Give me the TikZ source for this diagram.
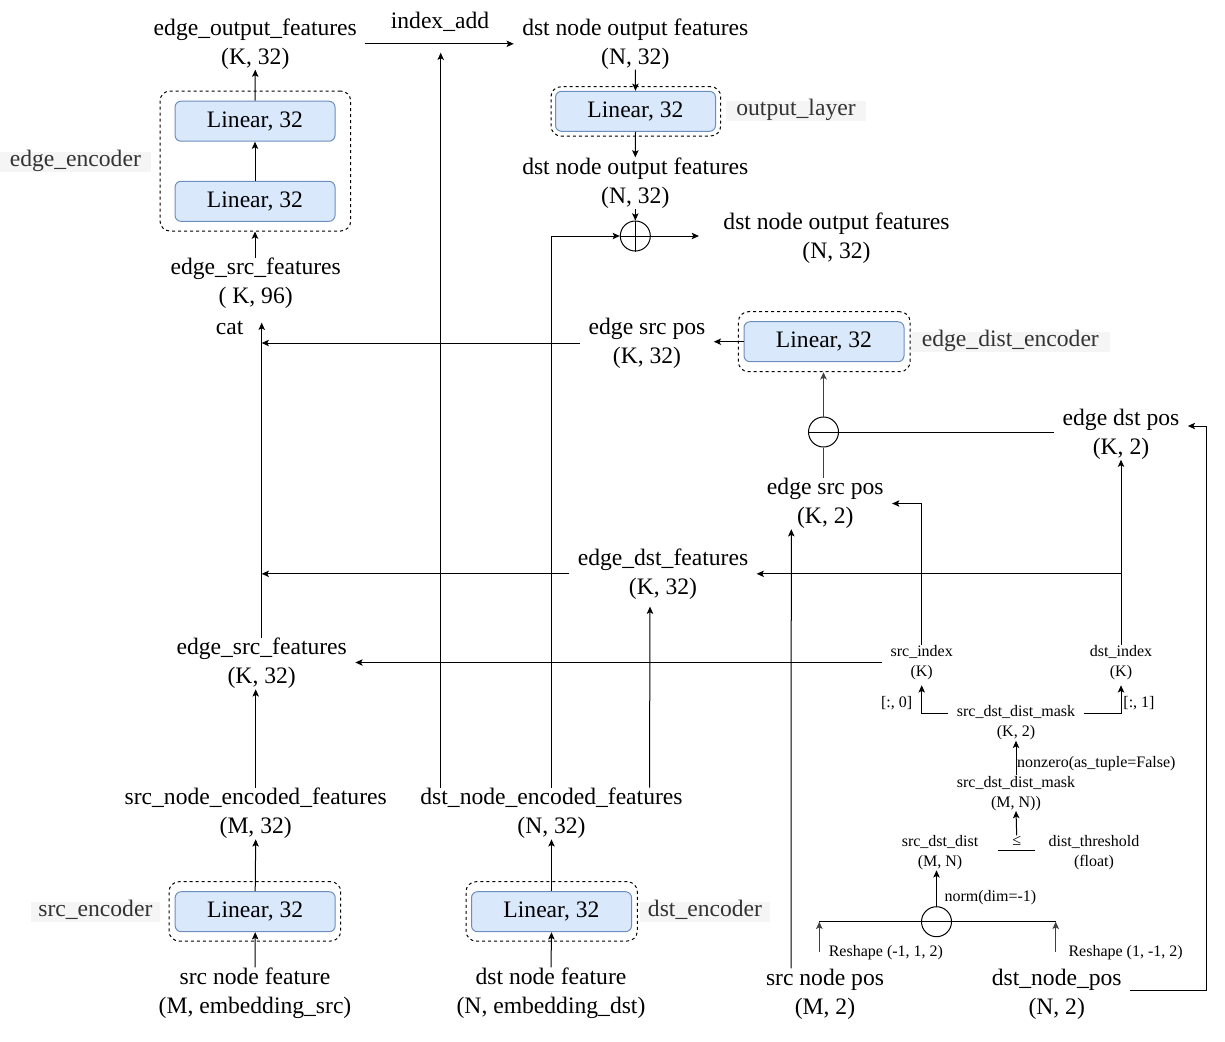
\documentclass[tikz,border=0pt]{standalone}
\usepackage{fontspec}
\setmainfont{Liberation Serif}
\usetikzlibrary{arrows.meta,calc}
\definecolor{linfill}{HTML}{DAE8FC}
\definecolor{linstroke}{HTML}{6C8EBF}
\definecolor{tagbg}{HTML}{F5F5F5}
\definecolor{tagfg}{HTML}{333333}
\newcommand\fbig{\fontsize{11.8pt}{14.5pt}\selectfont}
\newcommand\fsmall{\fontsize{8pt}{10pt}\selectfont}
\tikzset{
  txt/.style={font=\fbig, align=center, inner xsep=4pt, inner ysep=0pt},
  stxt/.style={font=\fsmall, align=center, inner xsep=4pt, inner ysep=0pt},
  lbl/.style={font=\fsmall, inner sep=0pt},
  lin/.style={draw=linstroke, fill=linfill, rounded corners=3pt, line width=0.5pt,
    minimum width=80pt, minimum height=20pt, inner sep=0pt, font=\fbig},
  grp/.style={draw=black, dashed, dash pattern=on 1.5pt off 1.5pt, rounded corners=5pt,
    line width=0.5pt, inner sep=0pt},
  tag/.style={fill=tagbg, text=tagfg, font=\fbig, inner xsep=0pt, inner ysep=0pt,
    text height=7.4pt, text depth=2.6pt},
  op/.style={circle, draw, line width=0.5pt, minimum size=15pt, inner sep=0pt},
  arr/.style={-{Stealth[length=3.6pt,width=3.2pt,inset=0.8pt]}, line width=0.5pt},
  gline/.style={draw=black!75, line width=0.7pt},
}
\begin{document}
\begin{tikzpicture}[x=0.5pt,y=-0.5pt,line width=0.5pt]
\useasboundingbox (0,0) rectangle (1225,1041);

% ---------- edge encoder ----------
\node[grp, minimum width=95.35pt, minimum height=70pt] (grpE) at (255.35,161) {};
\node[lin] (linE2) at (255,121.2) {Linear, 32};
\node[lin] (linE1) at (255,201.3) {Linear, 32};
\node[tag, minimum width=75.35pt] (tagE) at (75.35,161.7) {edge\_encoder};
\node[txt] (eof) at (255.3,43.8) {edge\_output\_features\\(K, 32)};
\node[txt] (esf96) at (255.7,283.5) {edge\_src\_features\\( K, 96)};
\node[txt] (cat) at (229.7,328) {cat};
\coordinate (catin) at (261.7,322.7);

% ---------- output layer ----------
\node[txt] (ia) at (440,22) {index\_add};
\coordinate (iain) at (440.7,52.7);
\node[txt] (dnof1) at (635.3,43.8) {dst node output features\\(N, 32)};
\node[grp, minimum width=84.85pt, minimum height=24.65pt] (grpO) at (635.85,111.35) {};
\node[lin] (linO) at (635.5,111.3) {Linear, 32};
\node[tag, minimum width=70pt] (tagO) at (796,111) {output\_layer};
\node[txt] (dnof2) at (635.3,183.2) {dst node output features\\(N, 32)};
\node[op] (plus) at (635.3,236) {};
\draw (plus.north) -- (plus.south) (plus.west) -- (plus.east);
\node[txt] (dnof3) at (836.5,238) {dst node output features\\(N, 32)};

% ---------- edge distance encoder ----------
\node[txt] (esp32) at (647,343) {edge src pos\\(K, 32)};
\node[grp, minimum width=85.8pt, minimum height=30pt] (grpD) at (824.2,341.7) {};
\node[lin] (linD) at (824,341.7) {Linear, 32};
\node[tag, minimum width=99.65pt] (tagD) at (1010.35,341.7) {edge\_dist\_encoder};
\node[op] (minus) at (823.5,432) {};
\draw (minus.west) -- (minus.east);
\node[txt] (edp) at (1121,434) {edge dst pos\\(K, 2)};
\node[txt] (esp2) at (825.3,503.5) {edge src pos\\(K, 2)};
\node[txt] (edf) at (663,573.8) {edge\_dst\_features\\(K, 32)};
\node[txt] (esf32) at (261.7,663.5) {edge\_src\_features\\(K, 32)};

% ---------- node encoders ----------
\node[txt] (sne) at (255.7,813.5) {src\_node\_encoded\_features\\(M, 32)};
\node[txt] (dnef) at (551.5,813.5) {dst\_node\_encoded\_features\\(N, 32)};
\node[grp, minimum width=85.85pt, minimum height=29.65pt] (grpS) at (254.85,911.35) {};
\node[lin] (linS) at (255.2,911.7) {Linear, 32};
\node[tag, minimum width=64.65pt] (tagS) at (95.35,911.7) {src\_encoder};
\node[grp, minimum width=85.65pt, minimum height=29.65pt] (grpT) at (551.65,911.35) {};
\node[lin] (linT) at (551.5,911.7) {Linear, 32};
\node[tag, minimum width=65pt] (tagT) at (705,911.7) {dst\_encoder};
\node[txt] (snf) at (255,993.3) {src node feature\\(M, embedding\_src)};
\node[txt] (dnf) at (551,993.3) {dst node feature\\(N, embedding\_dst)};
\node[txt] (snp) at (825,994) {src node pos\\(M, 2)};
\node[txt] (dnp) at (1056.7,994) {dst\_node\_pos\\(N, 2)};

% ---------- neighbour search ----------
\node[stxt] (si) at (921.7,662.5) {src\_index\\(K)};
\node[stxt] (di) at (1121,662.5) {dst\_index\\(K)};
\node[stxt] (sdm) at (1016,723) {src\_dst\_dist\_mask\\(K, 2)};
\node[stxt] (sdm2) at (1016,793.2) {src\_dst\_dist\_mask\\(M, N))};
\node[stxt] (sdd) at (940,852.5) {src\_dst\_dist\\(M, N)};
\node[stxt] (dt) at (1094,852.5) {dist\_threshold\\(float)};
\node[lbl] (le) at (1016.7,840.5) {≤};
\node[lbl] (ix0) at (896.7,703.2) {[:, 0]};
\node[lbl] (ix1) at (1139,703.2) {[:, 1]};
\node[lbl, anchor=west] (nz) at (1016.7,763.2) {nonzero(as\_tuple=False)};
\node[lbl, anchor=west] (nm) at (944,897.5) {norm(dim=-1)};
\node[lbl, anchor=west] (rs1) at (828.3,952.2) {Reshape (-1, 1, 2)};
\node[lbl, anchor=west] (rs2) at (1068,952.2) {Reshape (1, -1, 2)};
\node[op] (dist) at (936.5,921.7) {};
\coordinate (rsA0) at (819.3,951.7);
\coordinate (rsA1) at (819.3,921.7);
\coordinate (rsB0) at (1055.7,951.7);
\coordinate (rsB1) at (1055.7,921.7);
\coordinate (rc) at (1206.7,990);

% ---------- connectors ----------
\draw[arr] (linE2.north) -- (eof.south);
\draw[arr] (linE1.north) -- (linE2.south);
\draw[arr] (esf96.north -| linE1.south) -- (grpE.south -| linE1.south);
\draw[arr] (esf32.north) -- (catin);
\draw[arr] (esp32.west) -- (esp32.west -| catin);
\draw[arr] (edf.west) -- (edf.west -| catin);

\draw[arr] (eof.east) -- (dnof1.west);
\draw[arr] (dnef.north -| iain) -- (iain);
\draw[arr] (dnof1.south) -- (linO.north);
\draw[arr] (linO.south) -- (dnof2.north);
\draw[arr] (dnof2.south) -- (plus.north);
\draw[arr] (dnef.north) |- (plus.west);
\draw[arr] (plus.east) -- ([xshift=-8pt]dnof3.west |- plus.east);

\draw[arr] (linD.west) -- (esp32.east |- linD.west);
\draw[arr, gline] (minus.north) -- (grpD.south -| minus.north);
\draw[gline] (esp2.north -| minus.south) -- (minus.south);
\draw (minus.east) -- (minus.east -| edp.west);
\draw[arr] ([yshift=2pt]dnp.east) -- ([yshift=2pt]dnp.east -| rc)
  -- ([yshift=4pt]edp.east -| rc) -- ([yshift=4pt]edp.east);
\draw[arr] ([xshift=-17pt]snp.north) -- ([xshift=-17pt]esp2.south);
\draw[arr] (si.north) |- (esp2.east);
\draw[arr] (si.west) -- (esf32.east |- si.west);
\draw[arr] (di.north) -- (edp.south);
\draw[arr] (di.north |- edf.east) -- (edf.east);
\draw[arr] ([xshift=49pt]dnef.north) -- ([xshift=-6.5pt,yshift=-3.5pt]edf.south);

\draw[arr] (sne.north) -- (sne.north |- esf32.south);
\draw[arr] (linS.north) -- (sne.south);
\draw[arr] (snf.north) -- (linS.south);
\draw[arr] (linT.north) -- (dnef.south);
\draw[arr] (dnf.north) -- (linT.south);

\draw[arr] ([yshift=5pt]sdm.west) -| ([yshift=-2.5pt]si.south);
\draw[arr] ([yshift=5pt]sdm.east) -| ([yshift=-2.5pt]di.south);
\draw[arr] (sdm2.north) -- (sdm.south);
\draw[arr] (le.north) -- (sdm2.south);
\draw[shorten <=5.5pt, shorten >=2.5pt] ([yshift=1pt]sdd.east) -- ([yshift=1pt]dt.west);
\draw[arr] (dist.north) -- (dist.north |- sdd.south);
\draw (rsA1) -- (rsB1);
\draw[arr, gline] (rsA0) -- (rsA1);
\draw[arr, gline] (rsB0) -- (rsB1);
\end{tikzpicture}
\end{document}
